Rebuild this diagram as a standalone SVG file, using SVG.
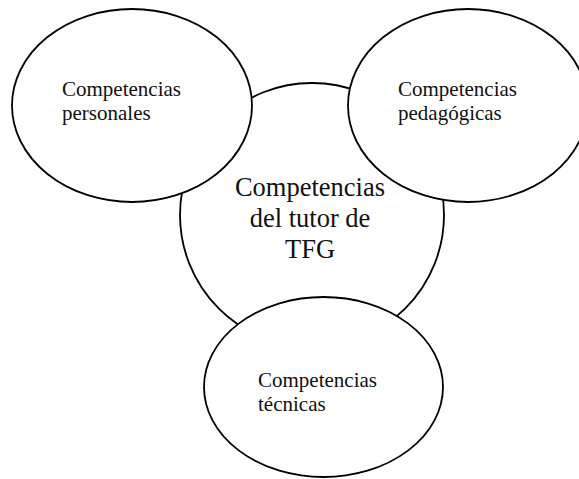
<svg xmlns="http://www.w3.org/2000/svg" width="579" height="479" viewBox="0 0 579 479">
<style>
.shape{fill:#fff;stroke:#000;stroke-width:1.8}
.lbl{font-family:"Liberation Serif","Times New Roman",serif;font-size:21px;fill:#111}
.big{font-family:"Liberation Serif","Times New Roman",serif;font-size:26.5px;fill:#111;text-anchor:middle}
</style>
<rect width="579" height="479" fill="#fff"/>
<g id="connectors"></g>
<g id="center">
<circle class="shape" cx="312" cy="215" r="132"/>
<text class="big" x="310"><tspan x="310" y="196">Competencias</tspan><tspan x="310" y="227">del tutor de</tspan><tspan x="310" y="258">TFG</tspan></text>
</g>
<g id="personales">
<ellipse class="shape" cx="132" cy="105.5" rx="120" ry="96.5"/>
<text class="lbl"><tspan x="62" y="96">Competencias</tspan><tspan x="62" y="120">personales</tspan></text>
</g>
<g id="pedagogicas">
<ellipse class="shape" cx="468" cy="105.5" rx="120" ry="96.5"/>
<text class="lbl"><tspan x="398" y="96">Competencias</tspan><tspan x="398" y="120">pedagógicas</tspan></text>
</g>
<g id="tecnicas">
<ellipse class="shape" cx="323.5" cy="387" rx="119.5" ry="90"/>
<text class="lbl"><tspan x="258" y="387">Competencias</tspan><tspan x="258" y="411">técnicas</tspan></text>
</g>
</svg>
